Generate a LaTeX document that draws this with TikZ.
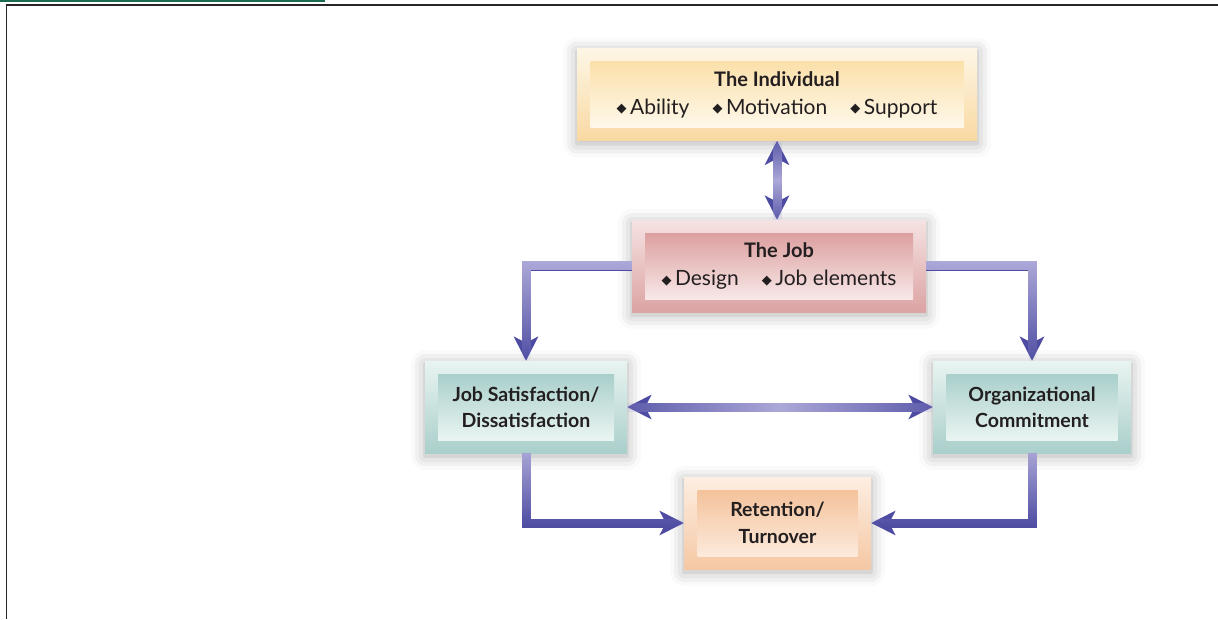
\documentclass[tikz,border=0pt]{standalone}
\usepackage{fontspec}
\setmainfont{Lato}
\newfontfamily\symfont{DejaVu Sans}
\usetikzlibrary{arrows.meta,calc,fadings,shadows.blur}

\definecolor{arrowdeep}{HTML}{4D4BA2}
\definecolor{arrowlight}{HTML}{ACA8D8}
\definecolor{inktext}{HTML}{231F20}
\definecolor{indivA}{HTML}{FDF6E5}
\definecolor{indivB}{HTML}{F9D9A2}
\definecolor{indivC}{HTML}{FBE0AA}
\definecolor{indivD}{HTML}{FEF8EA}
\definecolor{jobA}{HTML}{F5E2E2}
\definecolor{jobB}{HTML}{DCA3A3}
\definecolor{jobC}{HTML}{DC9F9F}
\definecolor{jobD}{HTML}{F8E8E8}
\definecolor{tealA}{HTML}{E8F4F1}
\definecolor{tealB}{HTML}{AACFCB}
\definecolor{tealC}{HTML}{A9CFCB}
\definecolor{tealD}{HTML}{EAF5F2}
\definecolor{peachA}{HTML}{FDEEE2}
\definecolor{peachB}{HTML}{F5C8A4}
\definecolor{peachC}{HTML}{F4C29B}
\definecolor{peachD}{HTML}{FCEADC}
\definecolor{bookgreen}{HTML}{1B6B50}

% middle color has to come last
\tikzfading[name=midfadev, top color=transparent!100, bottom color=transparent!100, middle color=transparent!0]
\tikzfading[name=midfadeh, left color=transparent!100, right color=transparent!100, middle color=transparent!0]

\newcommand{\bulletdia}{\raisebox{1.5pt}{\symfont\fontsize{13}{13}\selectfont ◆}\,}
\newcommand{\itemgap}{\hspace{1.1em}}

\begin{document}
\begin{tikzpicture}[
    x=1pt, y=-1pt,
    font=\fontsize{20}{28}\selectfont,
    text=inktext,
    outerbox/.style={inner sep=0pt, minimum height=92pt,
        blur shadow={shadow xshift=0pt, shadow yshift=-3pt, shadow blur radius=14pt, shadow opacity=32}},
    innerbox/.style={inner sep=0pt, minimum height=66pt, align=center},
    indivout/.style={outerbox, top color=indivA, bottom color=indivB},
    indivin/.style={innerbox, top color=indivC, bottom color=indivD},
    jobout/.style={outerbox, top color=jobA, bottom color=jobB},
    jobin/.style={innerbox, top color=jobC, bottom color=jobD},
    tealout/.style={outerbox, top color=tealA, bottom color=tealB},
    tealin/.style={innerbox, top color=tealC, bottom color=tealD, font=\fontsize{19.5}{26}\selectfont\bfseries},
    peachout/.style={outerbox, top color=peachA, bottom color=peachB},
    peachin/.style={innerbox, top color=peachC, bottom color=peachD, font=\fontsize{19.5}{27}\selectfont\bfseries},
    conn/.style={line width=9pt, arrowdeep},
    glow/.style={line width=9pt, arrowlight},
    tipone/.style={-{Stealth[length=24pt, width=24pt, inset=6pt]}},
    tipboth/.style={{Stealth[length=24pt, width=24pt, inset=6pt]}-{Stealth[length=24pt, width=24pt, inset=6pt]}}
]
\useasboundingbox (0,0) rectangle (1218,619);

% page frame
\fill[bookgreen] (0,0) rectangle (325,1.6);
\draw[line width=1.6pt, black!85] (1218,5) -- (6.5,5) -- (6.5,619);

% boxes
\node[indivout, minimum width=400pt] (indiv) at (777,94.5) {};
\node[indivin, minimum width=373pt] (indivtext) at (indiv)
    {\textbf{The Individual}\\{\fontsize{21}{28}\selectfont\bulletdia Ability\itemgap\bulletdia Motivation\itemgap\bulletdia Support}};

\node[jobout, minimum width=294pt] (job) at (779,266) {};
\node[jobin, minimum width=268pt] (jobtext) at (job)
    {\textbf{The Job}\\{\fontsize{21}{28}\selectfont\bulletdia Design\itemgap\bulletdia Job elements}};

\node[tealout, minimum width=202pt] (jobsat) at (526,407) {};
\node[tealin, minimum width=176pt] (jobsattext) at (jobsat) {Job Satisfaction/\\Dissatisfaction};

\node[tealout, minimum width=198pt] (orgcom) at (1032,407) {};
\node[tealin, minimum width=171pt] (orgcomtext) at (orgcom) {Organizational\\Commitment};

\node[peachout, minimum width=187pt] (retain) at (777.5,523) {};
\node[peachin, minimum width=160pt] (retaintext) at (retain) {Retention/\\Turnover};

% connectors
\draw[conn, tipboth] (indiv.south) -- (indiv.south |- job.north);
\draw[glow, path fading=midfadev, fit fading=false,
      fading transform={shift={($(indiv.south)!.5!(indiv.south |- job.north)$)}, yscale=1.9}]
    (indiv.south) -- (indiv.south |- job.north);

\draw[conn, tipone] (job.west) -| (jobsat.north);
\draw[glow, path fading=south] (job.west) -| (jobsat.north);

\draw[conn, tipone] (job.east) -| (orgcom.north);
\draw[glow, path fading=south] (job.east) -| (orgcom.north);

\draw[conn, tipboth] (jobsat.east) -- (orgcom.west);
\draw[glow, path fading=midfadeh, fit fading=false,
      fading transform={shift={($(jobsat.east)!.5!(orgcom.west)$)}, xscale=7.5}]
    (jobsat.east) -- (orgcom.west);

\draw[conn, tipone] (jobsat.south) |- (retain.west);
\draw[glow, path fading=south] (jobsat.south) |- (retain.west);

\draw[conn, tipone] (orgcom.south) |- (retain.east);
\draw[glow, path fading=south] (orgcom.south) |- (retain.east);
\end{tikzpicture}
\end{document}
